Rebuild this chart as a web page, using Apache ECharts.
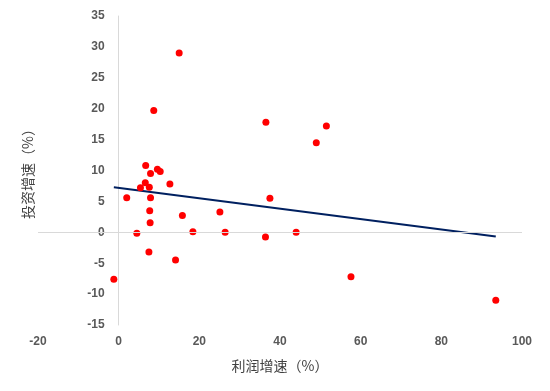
<!DOCTYPE html>
<html>
<head>
<meta charset="utf-8">
<script src="https://cdn.jsdelivr.net/npm/echarts@6/dist/echarts.min.js"></script>
<style>html,body{margin:0;padding:0;background:#fff;}#c{width:550px;height:391px;}</style>
</head>
<body>
<div id="c"></div>
<script>
const profitGrowth = [15.0, 8.7, 36.5, 6.7, 9.6, 10.3, 7.9, 6.6, 12.7, 5.4, 7.6, 2.0, 7.9, 37.5, 51.5, 49.0,
  7.7, 15.8, 25.1, 7.8, 4.5, 18.4, 26.4, 36.4, 7.5, 14.1, -1.2, 44.0, 57.6, 93.5];
const investGrowth = [29.0, 19.7, 17.8, 10.8, 10.2, 9.85, 9.5, 8.0, 7.8, 7.2, 7.3, 5.6, 5.6, 5.5, 17.2, 14.5,
  3.5, 2.7, 3.3, 1.55, -0.16, 0.1, 0.0, -0.75, -3.2, -4.5, -7.6, 0.0, -7.2, -11.0];
const trendX = [-1.2, 93.5];
const trendY = [7.28, -0.67];
const xTicks = [-20, 0, 20, 40, 60, 80, 100];
const yTicks = [-15, -10, -5, 0, 5, 10, 15, 20, 25, 30, 35];
const xName = '利润增速（%）';
const yName = '投资增速（%）';

const W = 550, gridLeft = 38, gridRight = 28;
const xMin = xTicks[0], xMax = xTicks[xTicks.length - 1];
// the y axis sits on x = 0: shift it from the grid's left edge by the scale distance
const yAxisOffset = -(W - gridLeft - gridRight) * (0 - xMin) / (xMax - xMin);

const chart = echarts.init(document.getElementById('c'));
const labelStyle = {color: '#595959', fontSize: 12, fontWeight: 'bold', fontFamily: 'Liberation Sans, Arial, sans-serif'};
chart.setOption({
  animation: false,
  grid: {left: gridLeft, right: gridRight, top: 16, bottom: 66, containLabel: false, outerBoundsMode: 'none'},
  xAxis: {
    type: 'value', min: xMin, max: xMax, interval: 20,
    axisLine: {show: false, onZero: false},
    axisTick: {show: false}, splitLine: {show: false},
    axisLabel: Object.assign({margin: 11}, labelStyle),
    name: xName, nameLocation: 'middle', nameGap: 34,
    nameTextStyle: {color: '#404040', fontSize: 14, fontFamily: 'Noto Sans CJK SC, sans-serif'}
  },
  yAxis: {
    type: 'value', min: yTicks[0], max: yTicks[yTicks.length - 1], interval: 5,
    offset: yAxisOffset,
    axisLine: {show: true, onZero: false, lineStyle: {color: '#d9d9d9', width: 1}},
    axisTick: {show: false}, splitLine: {show: false},
    axisLabel: Object.assign({margin: 14}, labelStyle),
    name: yName, nameLocation: 'middle', nameGap: 84,
    nameTextStyle: {color: '#404040', fontSize: 14, fontFamily: 'Noto Sans CJK SC, sans-serif'}
  },
  series: [
    {
      type: 'scatter', symbolSize: 7, itemStyle: {color: '#ff0000', opacity: 1},
      data: profitGrowth.map((x, i) => [x, investGrowth[i]]),
      markLine: {
        silent: true, symbol: 'none', label: {show: false},
        lineStyle: {color: '#d9d9d9', width: 1, type: 'solid'},
        data: [{yAxis: 0}]
      },
      z: 3
    },
    {
      type: 'line', symbol: 'none', lineStyle: {color: '#002060', width: 2},
      data: trendX.map((x, i) => [x, trendY[i]]), z: 2
    }
  ]
});
</script>
</body>
</html>
